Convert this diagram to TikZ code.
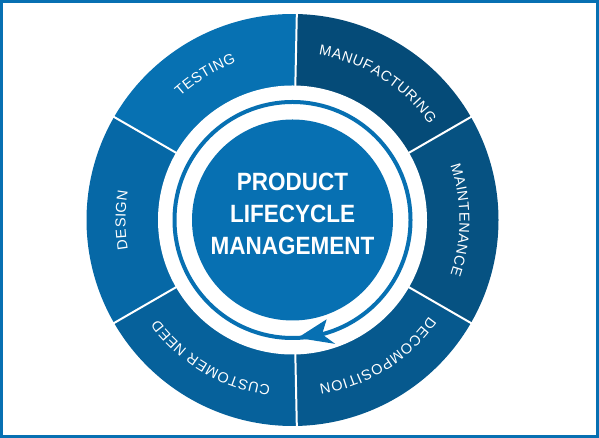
\documentclass[tikz,border=0pt]{standalone}
\usepackage{fontspec}
\setmainfont{Liberation Sans}
\usepackage{graphicx}
\usepackage{xcolor}
\usetikzlibrary{calc,decorations.text}

\definecolor{plmframe}{RGB}{7,112,178}
\definecolor{plmtest}{RGB}{7,113,178}
\definecolor{plmdesign}{RGB}{6,104,166}
\definecolor{plmneed}{RGB}{6,97,155}
\definecolor{plmdecomp}{RGB}{6,89,142}
\definecolor{plmmaint}{RGB}{6,82,130}
\definecolor{plmmanuf}{RGB}{5,75,120}
\definecolor{plmcore}{RGB}{7,112,178}

\newcommand{\segfont}{\fontsize{14.5}{16}\selectfont\color{white}}

\begin{document}
\begin{tikzpicture}[x=1pt,y=1pt]\tikzset{seg line/.style={white, line width=2pt},
label arc/.style={decorate, decoration={text along path, text align=fit to path, text={|\segfont|#1}}},
core text/.style={font=\fontsize{25}{32}\selectfont\bfseries, text=white, align=center, inner sep=0pt}}
\useasboundingbox (0,0) rectangle (599,438);
\draw[plmframe, line width=3pt] (1.5,1.5) rectangle (597.5,436.5);
\coordinate (c) at (292.5,218);
% outer ring of stages
\foreach \a/\b/\col in {150/88.8/plmtest, 88.8/30/plmmanuf, 30/-30/plmmaint, -30/-88.8/plmdecomp, -88.8/-150/plmneed, 210/150/plmdesign}
  \fill[\col] (c) -- ($(c)+(\a:206pt)$) arc[start angle=\a, end angle=\b, radius=206pt] -- cycle;
\foreach \ang in {150,88.8,30,-30,-88.8,210}
  \draw[seg line] ($(c)+(\ang:130pt)$) -- ($(c)+(\ang:208pt)$);
% labels, read clockwise
\foreach \m/\w/\lbl in {121/11.3/TESTING, 58/23/MANUFACTURING, 0/19.1/MAINTENANCE, -58/22.8/DECOMPOSITION, -120.5/23/CUSTOMER NEED, 180/10/DESIGN}
  \path[label arc=\lbl] ($(c)+(\m+\w:167pt)$) arc[start angle=\m+\w, end angle=\m-\w, radius=167pt];
\fill[white] (c) circle[radius=134.5pt];
\draw[plmcore, line width=4pt] (c) circle[radius=118pt];
\fill[plmcore] ($(c)+(-87.5:118pt)$) -- ($(c)+(-71:105pt)$) -- ($(c)+(-75.5:118pt)$) -- ($(c)+(-71:131pt)$) -- cycle;
\node[circle, fill=plmcore, minimum size=201pt, inner sep=0pt] (core) at (c) {};
\node[core text] (plm) at ($(core)+(0,6pt)$) {\scalebox{0.9}[1]{PRODUCT}\\\scalebox{0.9}[1]{LIFECYCLE}\\\scalebox{0.9}[1]{MANAGEMENT}};
\end{tikzpicture}
\end{document}
